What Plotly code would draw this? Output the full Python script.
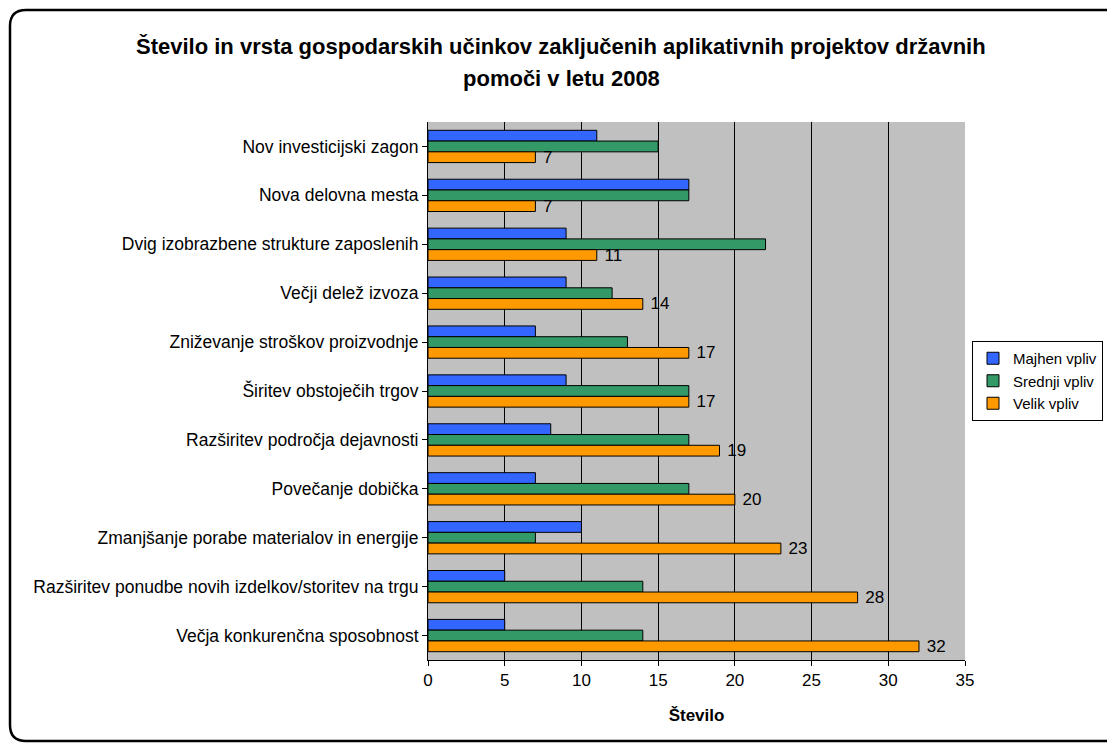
import plotly.graph_objects as go

categories = [
    'Nov investicijski zagon',
    'Nova delovna mesta',
    'Dvig izobrazbene strukture zaposlenih',
    'Večji delež izvoza',
    'Zniževanje stroškov proizvodnje',
    'Širitev obstoječih trgov',
    'Razširitev področja dejavnosti',
    'Povečanje dobička',
    'Zmanjšanje porabe materialov in energije',
    'Razširitev ponudbe novih izdelkov/storitev na trgu',
    'Večja konkurenčna sposobnost',
]
majhen = [11, 17, 9, 9, 7, 9, 8, 7, 10, 5, 5]
srednji = [15, 17, 22, 12, 13, 17, 17, 17, 7, 14, 14]
velik = [7, 7, 11, 14, 17, 17, 19, 20, 23, 28, 32]

# page body adds an 8px offset, so the figure is positioned relative to that
OFF = 8
W, H = 1115, 744 - OFF
L, R, T, B = 428 - OFF, 965 - OFF, 122 - OFF, 660 - OFF


def px(x):
    return (x - OFF - L) / (R - L)


def py(y):
    return (B - (y - OFF)) / (B - T)


def border_path(x0, y0, x1, y1, r):
    pts = [
        f'M {px(x0 + r)},{py(y0)}',
        f'L {px(x1 - r)},{py(y0)}',
        f'Q {px(x1)},{py(y0)} {px(x1)},{py(y0 + r)}',
        f'L {px(x1)},{py(y1 - r)}',
        f'Q {px(x1)},{py(y1)} {px(x1 - r)},{py(y1)}',
        f'L {px(x0 + r)},{py(y1)}',
        f'Q {px(x0)},{py(y1)} {px(x0)},{py(y1 - r)}',
        f'L {px(x0)},{py(y0 + r)}',
        f'Q {px(x0)},{py(y0)} {px(x0 + r)},{py(y0)}',
        'Z',
    ]
    return ' '.join(pts)


font = 'Liberation Sans, Arial, sans-serif'
line = dict(color='black', width=1)

fig = go.Figure()
fig.add_trace(go.Bar(y=categories, x=majhen, name='Majhen vpliv', orientation='h',
                     marker=dict(color='#3366FF', line=line)))
fig.add_trace(go.Bar(y=categories, x=srednji, name='Srednji vpliv', orientation='h',
                     marker=dict(color='#339966', line=line)))
fig.add_trace(go.Bar(y=categories, x=velik, name='Velik vpliv', orientation='h',
                     marker=dict(color='#FF9900', line=line),
                     text=velik, texttemplate='\u00a0%{text}',
                     textposition='outside', cliponaxis=False,
                     constraintext='none',
                     textfont=dict(size=17, color='black')))

fig.update_layout(
    width=W, height=H,
    margin=dict(l=L, r=W - R, t=T, b=H - B, autoexpand=False),
    paper_bgcolor='white',
    plot_bgcolor='#C0C0C0',
    font=dict(family=font, size=17.5, color='black'),
    barmode='group',
    bargap=0.34,
    bargroupgap=0,
    showlegend=True,
    legend=dict(x=px(972), y=py(381), xanchor='left', yanchor='middle',
                bordercolor='black', borderwidth=1, bgcolor='white',
                font=dict(size=15), traceorder='normal',
                itemwidth=30, tracegroupgap=0),
    xaxis=dict(range=[0, 35], dtick=5, showgrid=True, gridcolor='black', gridwidth=1,
               showline=True, linecolor='black', linewidth=1, mirror=False,
               ticks='outside', ticklen=5, tickcolor='black', zeroline=False,
               tickfont=dict(size=17),
               title=dict(text='<b>Število</b>', font=dict(size=17), standoff=19)),
    yaxis=dict(autorange='reversed', showline=True, linecolor='black', linewidth=1,
               ticks='outside', ticklen=5, tickcolor='black', showgrid=False),
    shapes=[dict(type='path', xref='paper', yref='paper',
                 path=border_path(10, 10, 1130, 741, 16),
                 line=dict(color='black', width=2.5), layer='below')],
    annotations=[
        dict(text='<b>Število in vrsta gospodarskih učinkov zaključenih aplikativnih projektov državnih</b>',
             xref='paper', yref='paper', x=px(561), y=py(47), showarrow=False,
             font=dict(size=22), xanchor='center', yanchor='middle'),
        dict(text='<b>pomoči v letu 2008</b>',
             xref='paper', yref='paper', x=px(561), y=py(79), showarrow=False,
             font=dict(size=22), xanchor='center', yanchor='middle'),
    ],
)

fig.write_html('out.html')
